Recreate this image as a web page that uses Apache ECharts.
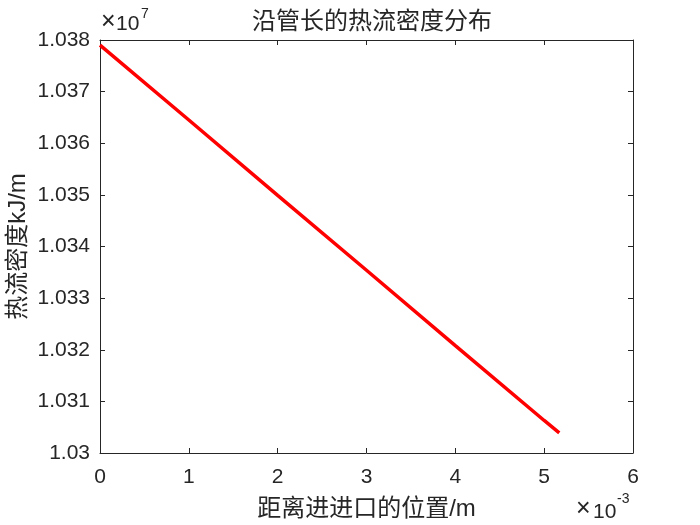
<!DOCTYPE html>
<html>
<head>
<meta charset="utf-8">
<script src="https://cdn.jsdelivr.net/npm/echarts@6/dist/echarts.min.js"></script>
<style>html,body{margin:0;padding:0;background:#fff;}#c{width:700px;height:525px;}</style>
</head>
<body>
<div id="c"></div>
<script>
// x in units of 1e-3 m, y in units of 1e7 kJ/m
var xValues = [0, 1, 2, 3, 4, 5, 5.17];
var yValues = [1.03790, 1.03645, 1.03499, 1.03354, 1.03208, 1.03063, 1.03039];
var xTicks = [0, 1, 2, 3, 4, 5, 6];
var yTicks = [1.030, 1.031, 1.032, 1.033, 1.034, 1.035, 1.036, 1.037, 1.038];
var titleText = '沿管长的热流密度分布';
var xName = '距离进进口的位置/m';
var yName = '热流密度kJ/m';

var TXT = '#262626';
var LAT = 'Liberation Sans, Arial, Helvetica, sans-serif';
var CJK = 'Liberation Sans, Noto Sans CJK SC, sans-serif';

var chart = echarts.init(document.getElementById('c'));
var data = xValues.map(function (x, i) { return [x, yValues[i]]; });

function axisBase() {
  return {
    axisLine: { show: true, onZero: false, lineStyle: { color: TXT, width: 1 } },
    axisTick: { show: true, inside: true, length: 5, lineStyle: { color: TXT, width: 1 } },
    splitLine: { show: false }
  };
}

var xMain = Object.assign(axisBase(), {
  type: 'value', position: 'bottom',
  min: xTicks[0], max: xTicks[xTicks.length - 1], interval: 1,
  name: xName, nameLocation: 'middle', nameGap: 44, nameMoveOverlap: false,
  nameTextStyle: { color: TXT, fontSize: 24, fontFamily: CJK },
  axisLabel: { color: TXT, fontSize: 21, fontFamily: LAT, margin: 14,
    formatter: function (v) { return String(v); } }
});
var xTop = Object.assign(axisBase(), {
  type: 'value', position: 'top',
  min: xTicks[0], max: xTicks[xTicks.length - 1], interval: 1,
  axisLabel: { show: false }
});
var yMain = Object.assign(axisBase(), {
  type: 'value', position: 'left',
  min: yTicks[0], max: yTicks[yTicks.length - 1], interval: 0.001,
  name: yName, nameLocation: 'middle', nameGap: 70, nameMoveOverlap: false,
  nameTextStyle: { color: TXT, fontSize: 24, fontFamily: CJK },
  axisLabel: { color: TXT, fontSize: 21, fontFamily: LAT, margin: 10,
    formatter: function (v) { return String(Number(v.toFixed(3))); } }
});
var yRight = Object.assign(axisBase(), {
  type: 'value', position: 'right',
  min: yTicks[0], max: yTicks[yTicks.length - 1], interval: 0.001,
  axisLabel: { show: false }
});

chart.setOption({
  animation: false,
  backgroundColor: '#fff',
  title: {
    text: titleText, left: 367, top: 5, textAlign: 'center',
    textStyle: { color: TXT, fontSize: 24, fontWeight: 'normal', fontFamily: CJK }
  },
  grid: { left: 100, right: 67, top: 40, bottom: 72, containLabel: false, outerBoundsMode: 'none' },
  xAxis: [xMain, xTop],
  yAxis: [yMain, yRight],
  graphic: [
    { type: 'text', left: 101, top: 10, style: { text: '×', fill: TXT, font: '25px ' + LAT } },
    { type: 'text', left: 116, top: 14, style: { text: '10', fill: TXT, font: '21px ' + LAT } },
    { type: 'text', left: 141, top: 7, style: { text: '7', fill: TXT, font: '14px ' + LAT } },
    { type: 'text', left: 576, top: 497, style: { text: '×', fill: TXT, font: '25px ' + LAT } },
    { type: 'text', left: 593, top: 502, style: { text: '10', fill: TXT, font: '21px ' + LAT } },
    { type: 'text', left: 617, top: 492, style: { text: '-3', fill: TXT, font: '14px ' + LAT } }
  ],
  series: [{
    type: 'line', xAxisIndex: 0, yAxisIndex: 0,
    data: data, showSymbol: false, symbol: 'none',
    lineStyle: { color: '#ff0000', width: 3.5 }
  }]
});
</script>
</body>
</html>
